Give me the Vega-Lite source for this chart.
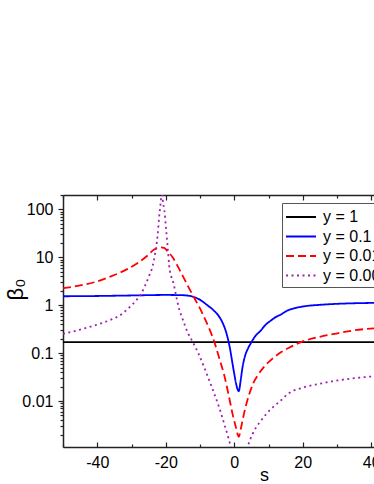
{
  "$schema": "https://vega.github.io/schema/vega-lite/v6.json",
  "width": 311,
  "height": 252,
  "autosize": {"type": "none"},
  "padding": {"left": 63, "top": 195, "right": 0, "bottom": 37},
  "background": "white",
  "config": {"view": {"stroke": null}, "font": "Liberation Sans"},
  "data": {"values": [
    {"s": -50, "v": 0.17, "g": "y = 1"}, {"s": 41, "v": 0.17, "g": "y = 1"},
    {"s": -50, "v": 1.54, "g": "y = 0.1"}, {"s": -40, "v": 1.56, "g": "y = 0.1"}, {"s": -30, "v": 1.6, "g": "y = 0.1"}, {"s": -20, "v": 1.64, "g": "y = 0.1"}, {"s": -15, "v": 1.62, "g": "y = 0.1"}, {"s": -12, "v": 1.5, "g": "y = 0.1"}, {"s": -10, "v": 1.3, "g": "y = 0.1"}, {"s": -8, "v": 1.02, "g": "y = 0.1"}, {"s": -6, "v": 0.78, "g": "y = 0.1"}, {"s": -4, "v": 0.52, "g": "y = 0.1"}, {"s": -3, "v": 0.37, "g": "y = 0.1"}, {"s": -2, "v": 0.22, "g": "y = 0.1"}, {"s": -1.2, "v": 0.12, "g": "y = 0.1"}, {"s": -0.5, "v": 0.06, "g": "y = 0.1"}, {"s": 0, "v": 0.037, "g": "y = 0.1"}, {"s": 0.6, "v": 0.022, "g": "y = 0.1"}, {"s": 1.3, "v": 0.016, "g": "y = 0.1"}, {"s": 1.9, "v": 0.028, "g": "y = 0.1"}, {"s": 2.4, "v": 0.05, "g": "y = 0.1"}, {"s": 3.2, "v": 0.09, "g": "y = 0.1"}, {"s": 4, "v": 0.125, "g": "y = 0.1"}, {"s": 4.9, "v": 0.164, "g": "y = 0.1"}, {"s": 6, "v": 0.22, "g": "y = 0.1"}, {"s": 7.8, "v": 0.3, "g": "y = 0.1"}, {"s": 9, "v": 0.38, "g": "y = 0.1"}, {"s": 10.7, "v": 0.48, "g": "y = 0.1"}, {"s": 12, "v": 0.56, "g": "y = 0.1"}, {"s": 13.6, "v": 0.64, "g": "y = 0.1"}, {"s": 15.6, "v": 0.78, "g": "y = 0.1"}, {"s": 18, "v": 0.88, "g": "y = 0.1"}, {"s": 20.4, "v": 0.95, "g": "y = 0.1"}, {"s": 25, "v": 1.02, "g": "y = 0.1"}, {"s": 30, "v": 1.07, "g": "y = 0.1"}, {"s": 35, "v": 1.1, "g": "y = 0.1"}, {"s": 41, "v": 1.12, "g": "y = 0.1"},
    {"s": -50, "v": 2.26, "g": "y = 0.01"}, {"s": -45, "v": 2.6, "g": "y = 0.01"}, {"s": -40.9, "v": 3.02, "g": "y = 0.01"}, {"s": -36, "v": 4.0, "g": "y = 0.01"}, {"s": -31.1, "v": 5.75, "g": "y = 0.01"}, {"s": -28, "v": 7.8, "g": "y = 0.01"}, {"s": -25.3, "v": 10.9, "g": "y = 0.01"}, {"s": -23.4, "v": 14.5, "g": "y = 0.01"}, {"s": -21.4, "v": 16.2, "g": "y = 0.01"}, {"s": -20.5, "v": 15.8, "g": "y = 0.01"}, {"s": -19.5, "v": 13.5, "g": "y = 0.01"}, {"s": -18, "v": 10, "g": "y = 0.01"}, {"s": -15.6, "v": 4.9, "g": "y = 0.01"}, {"s": -13.1, "v": 2.2, "g": "y = 0.01"}, {"s": -11.5, "v": 1.35, "g": "y = 0.01"}, {"s": -10.2, "v": 0.91, "g": "y = 0.01"}, {"s": -9.2, "v": 0.65, "g": "y = 0.01"}, {"s": -7.5, "v": 0.35, "g": "y = 0.01"}, {"s": -5.8, "v": 0.17, "g": "y = 0.01"}, {"s": -4.3, "v": 0.075, "g": "y = 0.01"}, {"s": -2.9, "v": 0.034, "g": "y = 0.01"}, {"s": -1.5, "v": 0.012, "g": "y = 0.01"}, {"s": -0.5, "v": 0.0054, "g": "y = 0.01"}, {"s": 0.5, "v": 0.0028, "g": "y = 0.01"}, {"s": 1.3, "v": 0.0018, "g": "y = 0.01"}, {"s": 1.9, "v": 0.0026, "g": "y = 0.01"}, {"s": 2.4, "v": 0.0039, "g": "y = 0.01"}, {"s": 3.4, "v": 0.008, "g": "y = 0.01"}, {"s": 4.4, "v": 0.014, "g": "y = 0.01"}, {"s": 5.6, "v": 0.024, "g": "y = 0.01"}, {"s": 6.8, "v": 0.034, "g": "y = 0.01"}, {"s": 8.5, "v": 0.05, "g": "y = 0.01"}, {"s": 10.7, "v": 0.072, "g": "y = 0.01"}, {"s": 13.6, "v": 0.104, "g": "y = 0.01"}, {"s": 16, "v": 0.13, "g": "y = 0.01"}, {"s": 19.5, "v": 0.17, "g": "y = 0.01"}, {"s": 25, "v": 0.22, "g": "y = 0.01"}, {"s": 30.2, "v": 0.26, "g": "y = 0.01"}, {"s": 35, "v": 0.3, "g": "y = 0.01"}, {"s": 41, "v": 0.33, "g": "y = 0.01"},
    {"s": -50, "v": 0.253, "g": "y = 0.001"}, {"s": -45, "v": 0.31, "g": "y = 0.001"}, {"s": -40.9, "v": 0.377, "g": "y = 0.001"}, {"s": -36, "v": 0.5, "g": "y = 0.001"}, {"s": -33, "v": 0.64, "g": "y = 0.001"}, {"s": -31.1, "v": 0.84, "g": "y = 0.001"}, {"s": -28.7, "v": 1.25, "g": "y = 0.001"}, {"s": -27.2, "v": 1.73, "g": "y = 0.001"}, {"s": -26, "v": 2.6, "g": "y = 0.001"}, {"s": -24.8, "v": 4.2, "g": "y = 0.001"}, {"s": -23.8, "v": 6.7, "g": "y = 0.001"}, {"s": -23.2, "v": 11, "g": "y = 0.001"}, {"s": -22.4, "v": 28, "g": "y = 0.001"}, {"s": -21.9, "v": 74, "g": "y = 0.001"}, {"s": -21.4, "v": 167, "g": "y = 0.001"}, {"s": -21.15, "v": 350, "g": "y = 0.001"}, {"s": -20.9, "v": 167, "g": "y = 0.001"}, {"s": -20.4, "v": 95, "g": "y = 0.001"}, {"s": -19.9, "v": 39, "g": "y = 0.001"}, {"s": -19.4, "v": 15, "g": "y = 0.001"}, {"s": -19, "v": 6.7, "g": "y = 0.001"}, {"s": -18.3, "v": 3.8, "g": "y = 0.001"}, {"s": -17.7, "v": 2.8, "g": "y = 0.001"}, {"s": -17, "v": 1.6, "g": "y = 0.001"}, {"s": -16.1, "v": 0.84, "g": "y = 0.001"}, {"s": -15.1, "v": 0.52, "g": "y = 0.001"}, {"s": -13.6, "v": 0.27, "g": "y = 0.001"}, {"s": -12.1, "v": 0.17, "g": "y = 0.001"}, {"s": -10.5, "v": 0.1, "g": "y = 0.001"}, {"s": -8.8, "v": 0.051, "g": "y = 0.001"}, {"s": -7.3, "v": 0.027, "g": "y = 0.001"}, {"s": -5.8, "v": 0.014, "g": "y = 0.001"}, {"s": -4.3, "v": 0.007, "g": "y = 0.001"}, {"s": -2.9, "v": 0.0033, "g": "y = 0.001"}, {"s": -1.7, "v": 0.0017, "g": "y = 0.001"}, {"s": -1, "v": 0.0011, "g": "y = 0.001"}, {"s": 0, "v": 0.0006, "g": "y = 0.001"}, {"s": 1.5, "v": 0.0004, "g": "y = 0.001"}, {"s": 3, "v": 0.0006, "g": "y = 0.001"}, {"s": 3.9, "v": 0.0011, "g": "y = 0.001"}, {"s": 5.4, "v": 0.0021, "g": "y = 0.001"}, {"s": 7.8, "v": 0.0039, "g": "y = 0.001"}, {"s": 10.7, "v": 0.0068, "g": "y = 0.001"}, {"s": 13.6, "v": 0.0103, "g": "y = 0.001"}, {"s": 15.6, "v": 0.014, "g": "y = 0.001"}, {"s": 20.4, "v": 0.0194, "g": "y = 0.001"}, {"s": 25, "v": 0.023, "g": "y = 0.001"}, {"s": 30.2, "v": 0.027, "g": "y = 0.001"}, {"s": 35, "v": 0.03, "g": "y = 0.001"}, {"s": 41, "v": 0.033, "g": "y = 0.001"}
  ]},
  "resolve": {"axis": {"x": "independent", "y": "independent"}},
  "layer": [
    {
      "mark": {"type": "line", "clip": true, "interpolate": "monotone", "strokeWidth": 1.8},
      "encoding": {
        "x": {"field": "s", "type": "quantitative",
          "scale": {"domain": [-50, 40.8], "nice": false, "zero": false},
          "axis": {"orient": "bottom", "values": [-50, -40, -30, -20, -10, 0, 10, 20, 30, 40],
            "labelExpr": "datum.value % 20 === 0 ? '' + datum.value : ''",
            "tickSize": {"condition": {"test": "datum.value % 20 === 0", "value": -5}, "value": -3},
            "grid": false, "domainColor": "#222", "domainWidth": 1.5, "tickColor": "#222", "tickWidth": 1.2,
            "labelFontSize": 16, "labelColor": "black", "labelPadding": 12, "labelFlush": false, "labelOverlap": false, "labelBound": false,
            "title": "s", "titleFontSize": 18, "titleFontWeight": "normal", "titleColor": "black",
            "titleX": 201, "titleY": 28, "titleAlign": "center", "titleBaseline": "middle"}},
        "y": {"field": "v", "type": "quantitative",
          "scale": {"type": "log", "domain": [0.0011, 200], "nice": false},
          "axis": {"orient": "left",
            "values": [0.002, 0.003, 0.004, 0.005, 0.006, 0.007, 0.008, 0.009, 0.01, 0.02, 0.03, 0.04, 0.05, 0.06, 0.07, 0.08, 0.09, 0.1, 0.2, 0.3, 0.4, 0.5, 0.6, 0.7, 0.8, 0.9, 1, 2, 3, 4, 5, 6, 7, 8, 9, 10, 20, 30, 40, 50, 60, 70, 80, 90, 100, 200],
            "format": "~g",
            "labelExpr": "indexof(['0.01','0.1','1','10','100'], datum.label) >= 0 ? datum.label : ''",
            "tickSize": {"condition": {"test": "abs(log(datum.value)/LN10 - round(log(datum.value)/LN10)) < 0.000001", "value": 5}, "value": 3},
            "grid": false, "domainColor": "#222", "domainWidth": 1.5, "tickColor": "#222", "tickWidth": 1.2,
            "labelFontSize": 16, "labelColor": "black", "labelPadding": 5, "labelOverlap": false, "labelBound": false,
            "title": "β₀", "titleFontSize": 22, "titleFontWeight": "normal", "titleColor": "black",
            "titleAngle": 270, "titleX": -48, "titleY": 94, "titleAlign": "center", "titleBaseline": "middle"}},
        "color": {"field": "g", "type": "nominal",
          "scale": {"domain": ["y = 1", "y = 0.1", "y = 0.01", "y = 0.001"], "range": ["#000000", "#0000ff", "#ff0000", "#a020b0"]},
          "legend": {"title": null, "orient": "none", "legendX": 219, "legendY": 8, "fillColor": "white", "strokeColor": "#555", "padding": 3,
            "symbolType": "M-1,0H2", "symbolSize": 400, "symbolStrokeWidth": 2, "labelFontSize": 16, "labelColor": "black", "labelOffset": 16, "rowPadding": 0.5, "labelLimit": 200}},
        "strokeDash": {"field": "g", "type": "nominal",
          "scale": {"domain": ["y = 1", "y = 0.1", "y = 0.01", "y = 0.001"], "range": [[1, 0], [1, 0], [8, 4], [2, 3.5]]}}
      }
    },
    {
      "mark": {"type": "point", "opacity": 0, "clip": true},
      "encoding": {
        "x": {"field": "s", "type": "quantitative",
          "scale": {"domain": [-50, 40.8], "nice": false, "zero": false},
          "axis": {"orient": "top", "values": [-50, -40, -30, -20, -10, 0, 10, 20, 30, 40], "labels": false, "title": null, "grid": false,
            "tickSize": {"condition": {"test": "datum.value % 20 === 0", "value": -5}, "value": -3},
            "domainColor": "#222", "domainWidth": 1.5, "tickColor": "#222", "tickWidth": 1.2}},
        "y": {"field": "v", "type": "quantitative",
          "scale": {"type": "log", "domain": [0.0011, 200], "nice": false},
          "axis": null}
      }
    }
  ]
}
